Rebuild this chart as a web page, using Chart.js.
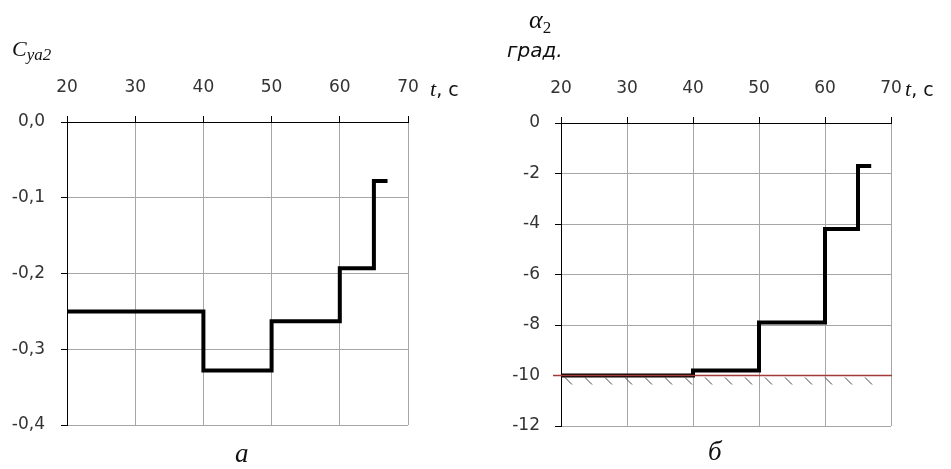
<!DOCTYPE html>
<html>
<head>
<meta charset="utf-8">
<script src="https://cdn.jsdelivr.net/npm/chart.js@4"></script>
<style>
  body { margin: 0; background: #fff; }
  #wrap { position: relative; width: 951px; height: 469px; overflow: hidden; }
  canvas { position: absolute; top: 0; }
  .lbl { position: absolute; color: #111; white-space: nowrap; }
  .serif { font-family: "Liberation Serif", "DejaVu Serif", serif; font-style: italic; }
  .sans { font-family: "DejaVu Sans", sans-serif; }
</style>
</head>
<body>
<div id="wrap">
  <canvas id="cyaChart" width="475" height="469" style="left:0"></canvas>
  <canvas id="alphaChart" width="475" height="469" style="left:476px"></canvas>

  <div class="lbl serif" style="left:12px;top:36px;font-size:22px">C<span style="font-size:17px;position:relative;top:4px">ya2</span></div>
  <div class="lbl" style="left:430px;top:76px;font-size:22px"><span class="serif">t</span><span class="sans" style="font-size:19px">, c</span></div>

  <div class="lbl serif" style="left:529px;top:5px;font-size:26px">α<span style="font-size:17px;font-style:normal;position:relative;top:5px">2</span></div>
  <div class="lbl sans" style="left:507px;top:38px;font-size:20px;font-style:italic">град.</div>
  <div class="lbl" style="left:905px;top:76px;font-size:22px"><span class="serif">t</span><span class="sans" style="font-size:19px">, c</span></div>

  <div class="lbl serif" style="left:235px;top:438px;font-size:27px">а</div>
  <div class="lbl serif" style="left:708px;top:436px;font-size:27px">б</div>
</div>
<script>
// time of each step (s) - value holds until next time
const stepTimes = [20, 40, 50, 60, 65, 67];
// lift coefficient Cya2
const cyaValues = [-0.25, -0.328, -0.263, -0.193, -0.078, -0.078];
// angle alpha2, degrees
const alphaValues = [-10, -9.8, -7.9, -4.2, -1.7, -1.7];
// limit angle (red hatched line)
const ALPHA_LIMIT = -10;

const tickFont = { family: 'DejaVu Sans', size: 17 };
const tickColor = '#333';

function toPoints(vals) {
  return stepTimes.map((t, i) => ({ x: t, y: vals[i] }));
}

function makeOptions(yMin, yMax, yStep, yFmt, axisW, xH, pad, yPad) {
  return {
    responsive: false,
    animation: false,
    layout: { padding: pad },
    plugins: { legend: { display: false }, tooltip: { enabled: false } },
    scales: {
      x: {
        type: 'linear',
        position: 'top',
        min: 20, max: 70,
        ticks: { stepSize: 10, font: tickFont, color: tickColor, padding: 18, maxRotation: 0 },
        grid: { color: '#a6a6a6', tickColor: '#000', tickLength: 6 },
        border: { color: '#000', width: 1 },
        afterFit: s => { s.height = xH; }
      },
      y: {
        min: yMin, max: yMax,
        ticks: { stepSize: yStep, font: tickFont, color: tickColor, padding: yPad, callback: yFmt },
        grid: { color: '#a6a6a6', tickColor: '#000', tickLength: 6 },
        border: { color: '#000', width: 1 },
        afterFit: s => { s.width = axisW; }
      }
    }
  };
}

function stepDataset(vals) {
  return {
    data: toPoints(vals),
    borderColor: '#000',
    borderWidth: 4,
    pointRadius: 0,
    stepped: true,
    fill: false,
    borderJoinStyle: 'miter',
    borderCapStyle: 'butt'
  };
}

// Left chart: Cya2
new Chart(document.getElementById('cyaChart'), {
  type: 'line',
  data: { datasets: [stepDataset(cyaValues)] },
  options: makeOptions(-0.4, 0, 0.1,
    v => v.toFixed(1).replace('.', ',').replace('-0,0', '0,0'),
    67, 122, { left: 0, top: 0, right: 67, bottom: 44 }, 16)
});

// hatched limit line for the right chart
const limitLine = {
  id: 'limitLine',
  afterDatasetsDraw(chart) {
    const { ctx, chartArea, scales } = chart;
    const y = scales.y.getPixelForValue(ALPHA_LIMIT);
    ctx.save();
    ctx.strokeStyle = '#a33a3a';
    ctx.lineWidth = 1.5;
    ctx.beginPath();
    ctx.moveTo(chartArea.left - 8, y);
    ctx.lineTo(chartArea.right + 1, y);
    ctx.stroke();
    ctx.strokeStyle = '#444';
    ctx.lineWidth = 1;
    for (let x = chartArea.left + 4; x < chartArea.right - 18; x += 20) {
      ctx.beginPath();
      ctx.moveTo(x, y + 2);
      ctx.lineTo(x + 7, y + 9);
      ctx.stroke();
    }
    ctx.restore();
  }
};

// Right chart: alpha2
new Chart(document.getElementById('alphaChart'), {
  type: 'line',
  data: { datasets: [stepDataset(alphaValues)] },
  options: makeOptions(-12, 0, 2, v => String(v),
    85, 123, { left: 0, top: 0, right: 60, bottom: 43 }, 15),
  plugins: [limitLine]
});
</script>
</body>
</html>
